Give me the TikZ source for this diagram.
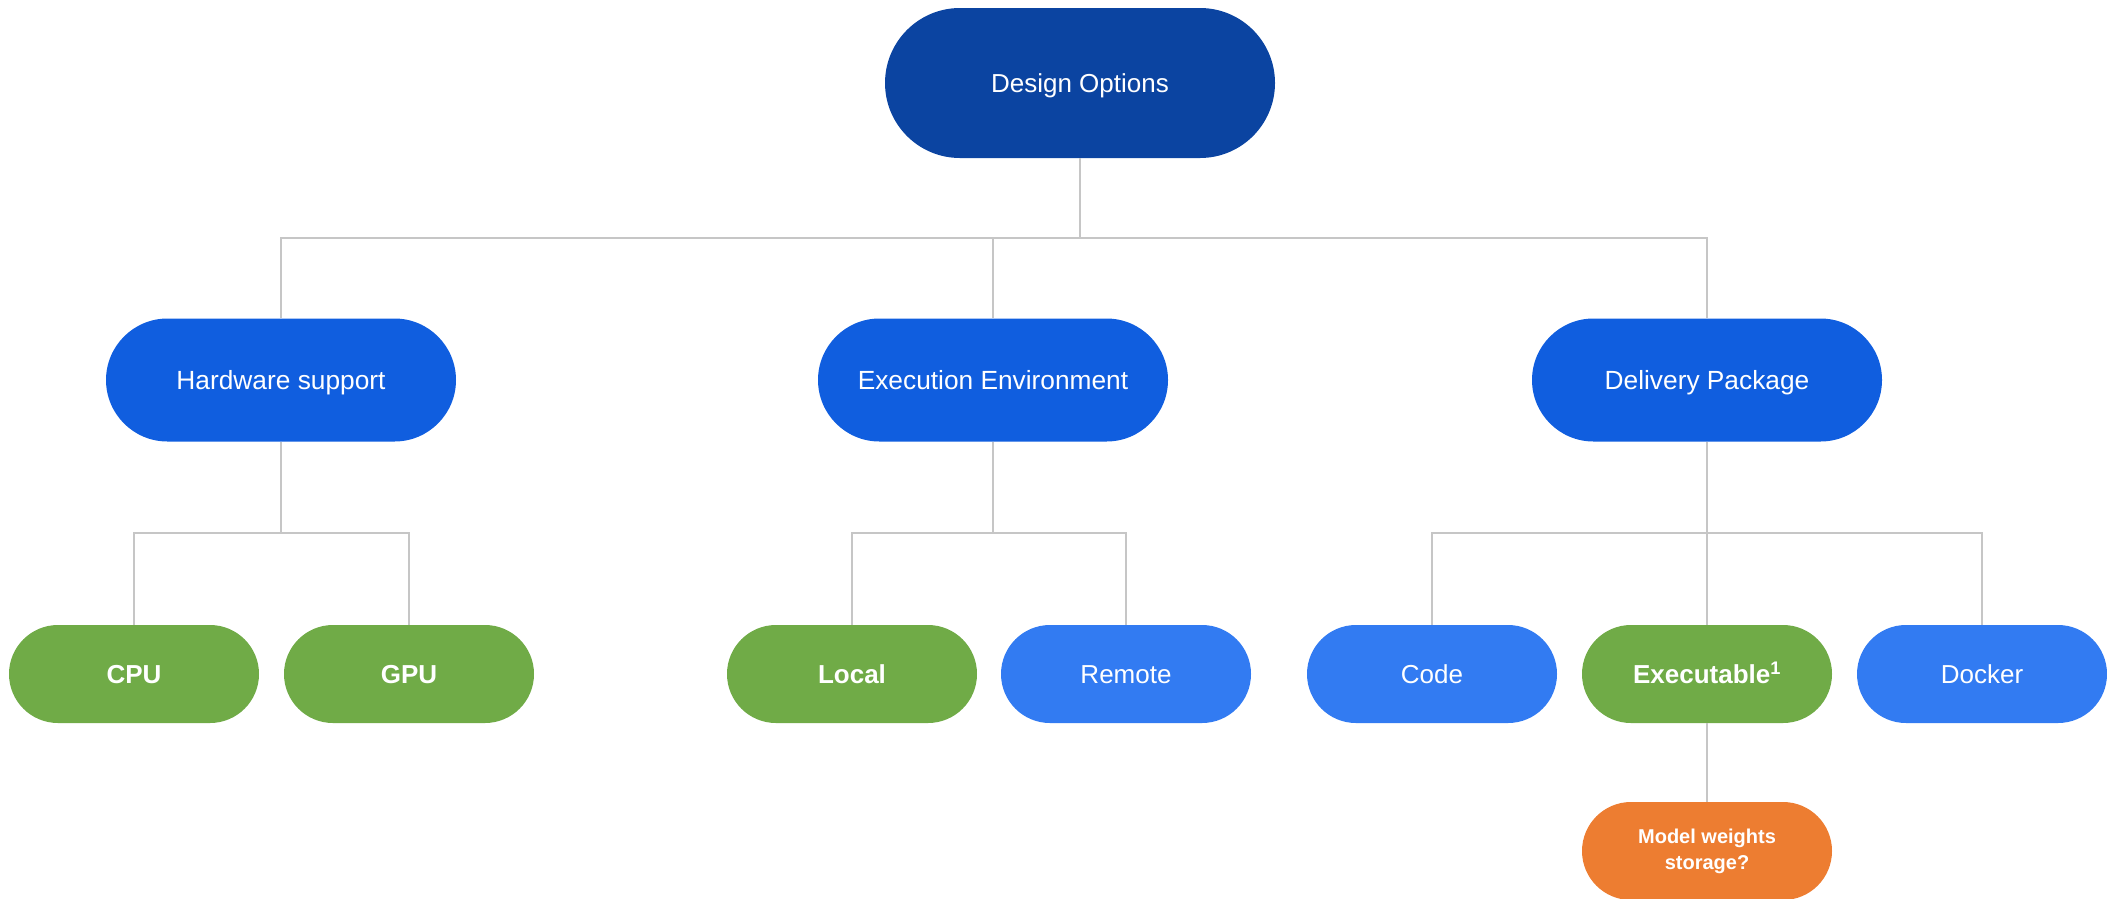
\documentclass[tikz,border=0pt]{standalone}
\usepackage{fontspec}
\setmainfont{Liberation Sans}
\begin{document}
\begin{tikzpicture}[x=1pt,y=-1pt,
  pill/.style={rectangle, inner sep=0pt, text=white, align=center},
  capcentre/.style={text height=18.7pt, text depth=0pt},
  rootbox/.style={pill, capcentre, fill=rootblue, minimum width=390pt, minimum height=150pt, rounded corners=75pt, font=\fontsize{26}{30}\selectfont},
  midbox/.style={pill, capcentre, fill=midblue, minimum width=350pt, minimum height=123pt, rounded corners=61.5pt, font=\fontsize{26.3}{30}\selectfont},
  leafbox/.style={pill, minimum width=250pt, minimum height=98pt, rounded corners=49pt, font=\fontsize{26}{30}\selectfont},
  leafblue/.style={leafbox, capcentre, fill=leafblueC},
  leafgreen/.style={leafbox, capcentre, fill=greenC, font=\fontsize{26}{30}\selectfont\bfseries},
  leaforange/.style={leafbox, fill=orangeC, font=\fontsize{20}{26}\selectfont\bfseries},
  conn/.style={draw=lineC, line width=2pt}]
\definecolor{rootblue}{HTML}{0B44A1}
\definecolor{midblue}{HTML}{105EDF}
\definecolor{leafblueC}{HTML}{327BF2}
\definecolor{greenC}{HTML}{70AB47}
\definecolor{orangeC}{HTML}{ED7D31}
\definecolor{lineC}{HTML}{C6C6C6}
\useasboundingbox (0,0) rectangle (2107,898);
\begin{scope}
\clip (0,0) rectangle (2107,898);
% tree nodes
\node[rootbox] (root) at (1080,83) {Design Options};
\node[midbox] (hw)  at (281,380) {Hardware support};
\node[midbox] (env) at (993,380) {Execution Environment};
\node[midbox] (del) at (1707,380) {Delivery Package};
\node[leafgreen] (cpu) at (134,674) {CPU};
\node[leafgreen] (gpu) at (409,674) {GPU};
\node[leafgreen] (loc) at (852,674) {Local};
\node[leafblue]  (rem) at (1126,674) {Remote};
\node[leafblue]  (code) at (1432,674) {Code};
\node[leafgreen] (exe) at (1707,674) {Executable\textsuperscript{1}};
\node[leafblue]  (dock) at (1982,674) {Docker};
\node[leaforange] (mw) at (1707,851) {Model weights\\storage?};
% bus junctions
\coordinate (b0) at (1080,238);
\coordinate (b1) at (281,533);
\coordinate (b2) at (993,533);
\coordinate (b3) at (1707,533);
% connectors
\draw[conn] (root.south) -- (b0);
\draw[conn] (hw.north) |- (b0);
\draw[conn] (env.north) |- (b0);
\draw[conn] (del.north) |- (b0);
\draw[conn] (hw.south) -- (b1);
\draw[conn] (cpu.north) |- (b1);
\draw[conn] (gpu.north) |- (b1);
\draw[conn] (env.south) -- (b2);
\draw[conn] (loc.north) |- (b2);
\draw[conn] (rem.north) |- (b2);
\draw[conn] (del.south) -- (b3);
\draw[conn] (code.north) |- (b3);
\draw[conn] (exe.north) -- (b3);
\draw[conn] (dock.north) |- (b3);
\draw[conn] (exe.south) -- (mw.north);
\end{scope}
\end{tikzpicture}
\end{document}
